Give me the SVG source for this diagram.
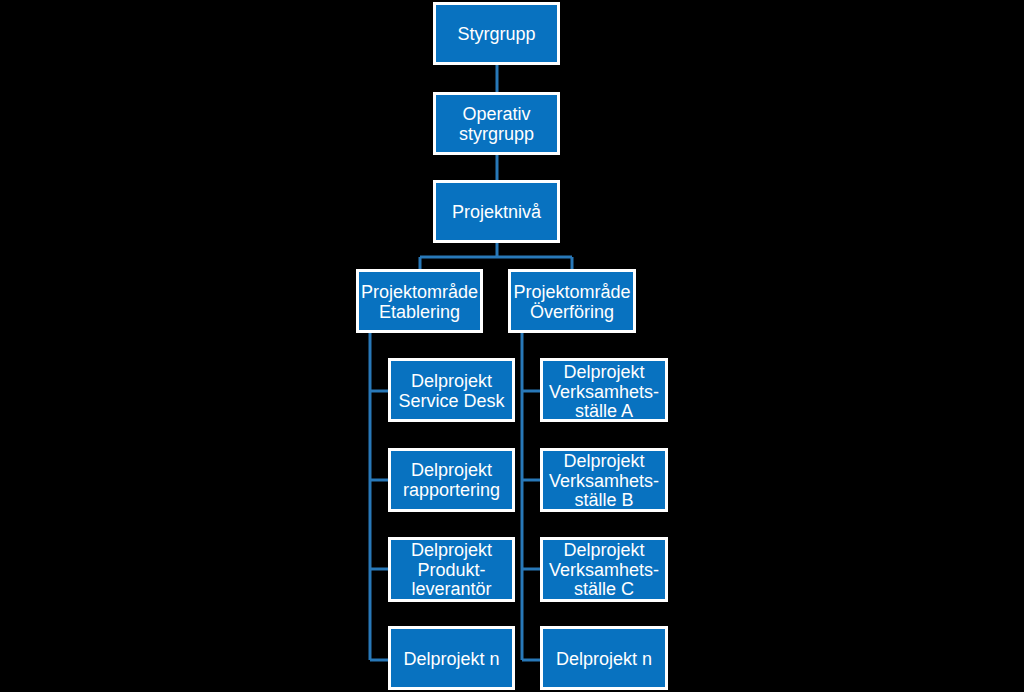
<svg xmlns="http://www.w3.org/2000/svg" width="1024" height="692" viewBox="0 0 1024 692">
<style>
.box{fill:#0872C0;stroke:#FFFFFF;stroke-width:3}
.t{font-family:"Liberation Sans",Arial,sans-serif;font-size:18px;fill:#FFFFFF;text-anchor:middle}
.c{fill:none;stroke:#2878B8;stroke-width:3}
</style>
<rect x="0" y="0" width="1024" height="692" fill="#000000"/>
<g id="connectors">
<path class="c" d="M497 65V92M497 155V180M497 243V257M420 257H572M420 257V269M572 257V269"/>
<path class="c" d="M370 333V660M370 391H388M370 480H388M370 569H388M370 660H388"/>
<path class="c" d="M522 333V660M522 391H540M522 480H540M522 569H540M522 660H540"/>
</g>
<g id="styrgrupp"><rect class="box" x="434.5" y="3.5" width="124" height="60"/><text class="t" x="496.5" y="40">Styrgrupp</text></g>
<g id="operativ"><rect class="box" x="434.5" y="93.5" width="124" height="60"/><text class="t" x="496.5" y="119.5">Operativ</text><text class="t" x="496.5" y="139.5">styrgrupp</text></g>
<g id="projektniva"><rect class="box" x="434.5" y="181.5" width="124" height="60"/><text class="t" x="496.5" y="218">Projektnivå</text></g>
<g id="etablering"><rect class="box" x="357.5" y="270.5" width="124" height="61"/><text class="t" x="419.5" y="297.5">Projektområde</text><text class="t" x="419.5" y="317.5">Etablering</text></g>
<g id="overforing"><rect class="box" x="509.5" y="270.5" width="125" height="61"/><text class="t" x="572" y="297.5">Projektområde</text><text class="t" x="572" y="317.5">Överföring</text></g>
<g id="servicedesk"><rect class="box" x="389.5" y="359.5" width="124" height="61"/><text class="t" x="451.5" y="386.5">Delprojekt</text><text class="t" x="451.5" y="406.5">Service Desk</text></g>
<g id="rapportering"><rect class="box" x="389.5" y="449.5" width="124" height="61"/><text class="t" x="451.5" y="475.5">Delprojekt</text><text class="t" x="451.5" y="495.5">rapportering</text></g>
<g id="produkt"><rect class="box" x="389.5" y="538.5" width="124" height="62"/><text class="t" x="451.5" y="555.5">Delprojekt</text><text class="t" x="451.5" y="575.5">Produkt-</text><text class="t" x="451.5" y="594.5">leverantör</text></g>
<g id="delprojektn1"><rect class="box" x="389.5" y="627.5" width="124" height="61"/><text class="t" x="451.5" y="664.5">Delprojekt n</text></g>
<g id="verksamhetA"><rect class="box" x="541.5" y="359.5" width="125" height="61"/><text class="t" x="604" y="377.5">Delprojekt</text><text class="t" x="604" y="397.5">Verksamhets-</text><text class="t" x="604" y="416.5">ställe A</text></g>
<g id="verksamhetB"><rect class="box" x="541.5" y="449.5" width="125" height="61"/><text class="t" x="604" y="466.5">Delprojekt</text><text class="t" x="604" y="486.5">Verksamhets-</text><text class="t" x="604" y="505.5">ställe B</text></g>
<g id="verksamhetC"><rect class="box" x="541.5" y="538.5" width="125" height="62"/><text class="t" x="604" y="555.5">Delprojekt</text><text class="t" x="604" y="575.5">Verksamhets-</text><text class="t" x="604" y="594.5">ställe C</text></g>
<g id="delprojektn2"><rect class="box" x="541.5" y="627.5" width="125" height="61"/><text class="t" x="604" y="664.5">Delprojekt n</text></g>
</svg>
